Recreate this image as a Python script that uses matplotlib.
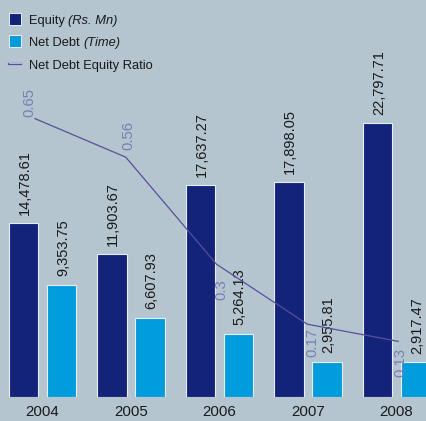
import matplotlib
matplotlib.use("Agg")
import matplotlib.pyplot as plt
from matplotlib.patches import Rectangle
from matplotlib.lines import Line2D
import numpy as np

plt.rcParams['font.family'] = ['Liberation Sans', 'DejaVu Sans']

# data
years = ["2004", "2005", "2006", "2007", "2008"]
equity = [14478.61, 11903.67, 17637.27, 17898.05, 22797.71]
net_debt = [9353.75, 6607.93, 5264.13, 2955.81, 2917.47]
ratio = [0.65, 0.56, 0.31, 0.17, 0.13]
ratio_labels = ["0.65", "0.56", "0.3", "0.17", "0.13"]

bg = "#b4c5d0"
c_equity = "#14237a"
c_debt = "#009cdc"
c_line = "#5a4e9a"
c_ratio_txt = "#7a7db6"
c_txt = "#1a1a1a"

W, H = 427, 421
fig = plt.figure(figsize=(W / 100, H / 100), dpi=100, facecolor=bg)

# axes in pixel terms: bars sit on y=397 px from top
ax = fig.add_axes([0, 24 / H, 1, 397 / H])
ax.set_facecolor(bg)
x = np.arange(len(years))
bw = 0.335
off = 0.215
b1 = ax.bar(x - off, equity, bw, color=c_equity, edgecolor="#e8eef5", linewidth=0.8)
b2 = ax.bar(x + off, net_debt, bw, color=c_debt, edgecolor="#e8eef5", linewidth=0.8)
ax.set_xlim(-0.480, 4.345)
ax.set_ylim(0, 33067)
ax.set_xticks(x)
ax.set_xticklabels(years, fontsize=10.8, color=c_txt)
ax.tick_params(axis="x", length=0, pad=6)
ax.set_yticks([])
for s in ax.spines.values():
    s.set_visible(False)

for bars, vals in ((b1, equity), (b2, net_debt)):
    for r, v in zip(bars, vals):
        ax.annotate(f"{v:,.2f}", (r.get_x() + r.get_width() / 2, r.get_height()),
                    xytext=(1, 6), textcoords="offset points", rotation=90,
                    ha="center", va="bottom", fontsize=10.5, color=c_txt)

# ratio line on its own overlay axes
ax2 = fig.add_axes([0, 24 / H, 1, 397 / H])
ax2.patch.set_visible(False)
ax2.plot(x, ratio, color=c_line, linewidth=0.9)
ax2.set_xlim(-0.386, 4.319)
ax2.set_ylim(0, 0.927)
ax2.axis("off")

offsets = [(-4.3, 1.4, "bottom"), (2.2, 5, "bottom"), (3.6, -10.5, "top"),
           (4, -3, "top"), (1.4, -5, "top")]
for xi, r, lab, (dx, dy, va) in zip(x, ratio, ratio_labels, offsets):
    ax2.annotate(lab, (xi, r), xytext=(dx, dy), textcoords="offset points",
                 rotation=90, ha="center", va=va, fontsize=10.7, color=c_ratio_txt)

# hand-drawn legend (pixel coords from top-left)
def px(xp, yp):
    return xp / W, 1 - yp / H

legend_rows = [("Equity ", "(Rs. Mn)", c_equity, 19),
               ("Net Debt ", "(Time)", c_debt, 41),
               ("Net Debt Equity Ratio", "", None, 64)]
renderer = fig.canvas.get_renderer()
for main, ital, col, yc in legend_rows:
    if col is not None:
        x0, y0 = px(9, yc + 6)
        fig.patches.append(Rectangle((x0, y0), 12 / W, 12 / H, transform=fig.transFigure,
                                     facecolor=col, edgecolor="#e8eef5", linewidth=0.7))
    else:
        xa, ya = px(9, yc)
        xb, _ = px(21, yc)
        fig.lines.append(Line2D([xa, xb], [ya, ya], transform=fig.transFigure,
                                color=c_line, linewidth=1.6))
        fig.lines.append(Line2D([xa, xb], [ya + 0.7 / H, ya + 0.7 / H], transform=fig.transFigure,
                                color="#c9c3e6", linewidth=0.6))
    tx, ty = px(29, yc + 4.6)
    t = fig.text(tx, ty, main, fontsize=9.3, color=c_txt, ha="left", va="baseline")
    if ital:
        bb = t.get_window_extent(renderer)
        fig.text(bb.x1 / W, ty, ital, fontsize=9.3, color=c_txt, ha="left", va="baseline",
                 style="italic")

fig.savefig("out.png", dpi=100, facecolor=bg)
